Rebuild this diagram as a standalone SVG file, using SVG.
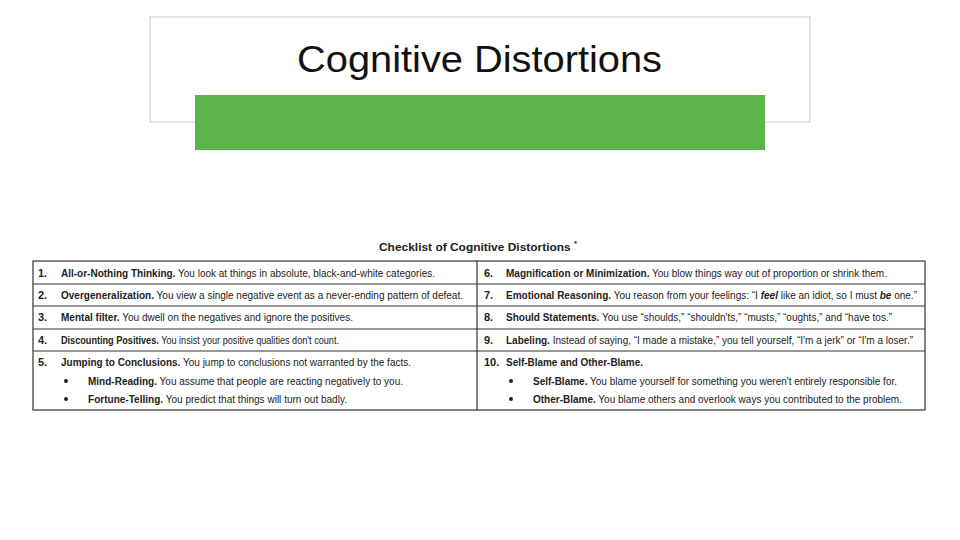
<svg xmlns="http://www.w3.org/2000/svg" width="960" height="540" viewBox="0 0 960 540">
<style>
.t{font-family:"Liberation Sans",Arial,sans-serif;font-size:11px;fill:#222}
.b{font-weight:bold}
.ln{stroke:#333;stroke-width:1.2;fill:none}
</style>
<rect width="960" height="540" fill="#fff"/>
<g id="title">
<rect x="150" y="17" width="660" height="105" fill="#fff" stroke="#d9dede" stroke-width="1.5"/>
<text x="297" y="72" font-family="Liberation Sans,Arial,sans-serif" font-size="37" fill="#111" textLength="365" lengthAdjust="spacingAndGlyphs">Cognitive Distortions</text>
</g>
<rect id="band" x="195" y="95" width="570" height="55" fill="#5bb54a"/>
<g id="table">
<text x="379" y="251" class="t b" font-size="12.5" textLength="198" lengthAdjust="spacingAndGlyphs">Checklist of Cognitive Distortions <tspan font-size="7" dy="-5">*</tspan></text>
<rect x="33" y="261" width="892" height="149" class="ln"/>
<line x1="477" y1="261" x2="477" y2="410" class="ln"/>
<line x1="33" y1="284" x2="925" y2="284" class="ln"/>
<line x1="33" y1="306" x2="925" y2="306" class="ln"/>
<line x1="33" y1="329" x2="925" y2="329" class="ln"/>
<line x1="33" y1="351" x2="925" y2="351" class="ln"/>
<g class="t b">
<text x="38" y="277">1.</text><text x="38" y="299">2.</text><text x="38" y="321">3.</text><text x="38" y="344">4.</text><text x="38" y="366">5.</text>
<text x="484" y="277">6.</text><text x="484" y="299">7.</text><text x="484" y="321">8.</text><text x="484" y="344">9.</text><text x="484" y="366">10.</text>
</g>
<text class="t" x="61" y="277" textLength="374" lengthAdjust="spacingAndGlyphs"><tspan class="b">All-or-Nothing Thinking.</tspan> You look at things in absolute, black-and-white categories.</text>
<text class="t" x="61" y="299" textLength="402" lengthAdjust="spacingAndGlyphs"><tspan class="b">Overgeneralization.</tspan> You view a single negative event as a never-ending pattern of defeat.</text>
<text class="t" x="61" y="321" textLength="292" lengthAdjust="spacingAndGlyphs"><tspan class="b">Mental filter.</tspan> You dwell on the negatives and ignore the positives.</text>
<text class="t" x="61" y="344" textLength="278" lengthAdjust="spacingAndGlyphs"><tspan class="b">Discounting Positives.</tspan> You insist your positive qualities don't count.</text>
<text class="t" x="61" y="366" textLength="350" lengthAdjust="spacingAndGlyphs"><tspan class="b">Jumping to Conclusions.</tspan> You jump to conclusions not warranted by the facts.</text>
<circle cx="66" cy="381" r="2" fill="#222"/><circle cx="66" cy="399" r="2" fill="#222"/>
<text class="t" x="88" y="385" textLength="315" lengthAdjust="spacingAndGlyphs"><tspan class="b">Mind-Reading.</tspan> You assume that people are reacting negatively to you.</text>
<text class="t" x="88" y="403" textLength="259" lengthAdjust="spacingAndGlyphs"><tspan class="b">Fortune-Telling.</tspan> You predict that things will turn out badly.</text>
<text class="t" x="506" y="277" textLength="381" lengthAdjust="spacingAndGlyphs"><tspan class="b">Magnification or Minimization.</tspan> You blow things way out of proportion or shrink them.</text>
<text class="t" x="506" y="299" textLength="411" lengthAdjust="spacingAndGlyphs"><tspan class="b">Emotional Reasoning.</tspan> You reason from your feelings: “I <tspan class="b" font-style="italic">feel</tspan> like an idiot, so I must <tspan class="b" font-style="italic">be</tspan> one.”</text>
<text class="t" x="506" y="321" textLength="386" lengthAdjust="spacingAndGlyphs"><tspan class="b">Should Statements.</tspan> You use “shoulds,” “shouldn'ts,” “musts,” “oughts,” and “have tos.”</text>
<text class="t" x="506" y="344" textLength="407" lengthAdjust="spacingAndGlyphs"><tspan class="b">Labeling.</tspan> Instead of saying, “I made a mistake,” you tell yourself, “I'm a jerk” or “I'm a loser.”</text>
<text class="t b" x="506" y="366" textLength="137" lengthAdjust="spacingAndGlyphs">Self-Blame and Other-Blame.</text>
<circle cx="511" cy="381" r="2" fill="#222"/><circle cx="511" cy="399" r="2" fill="#222"/>
<text class="t" x="533" y="385" textLength="364" lengthAdjust="spacingAndGlyphs"><tspan class="b">Self-Blame.</tspan> You blame yourself for something you weren't entirely responsible for.</text>
<text class="t" x="533" y="403" textLength="369" lengthAdjust="spacingAndGlyphs"><tspan class="b">Other-Blame.</tspan> You blame others and overlook ways you contributed to the problem.</text>
</g>
</svg>
